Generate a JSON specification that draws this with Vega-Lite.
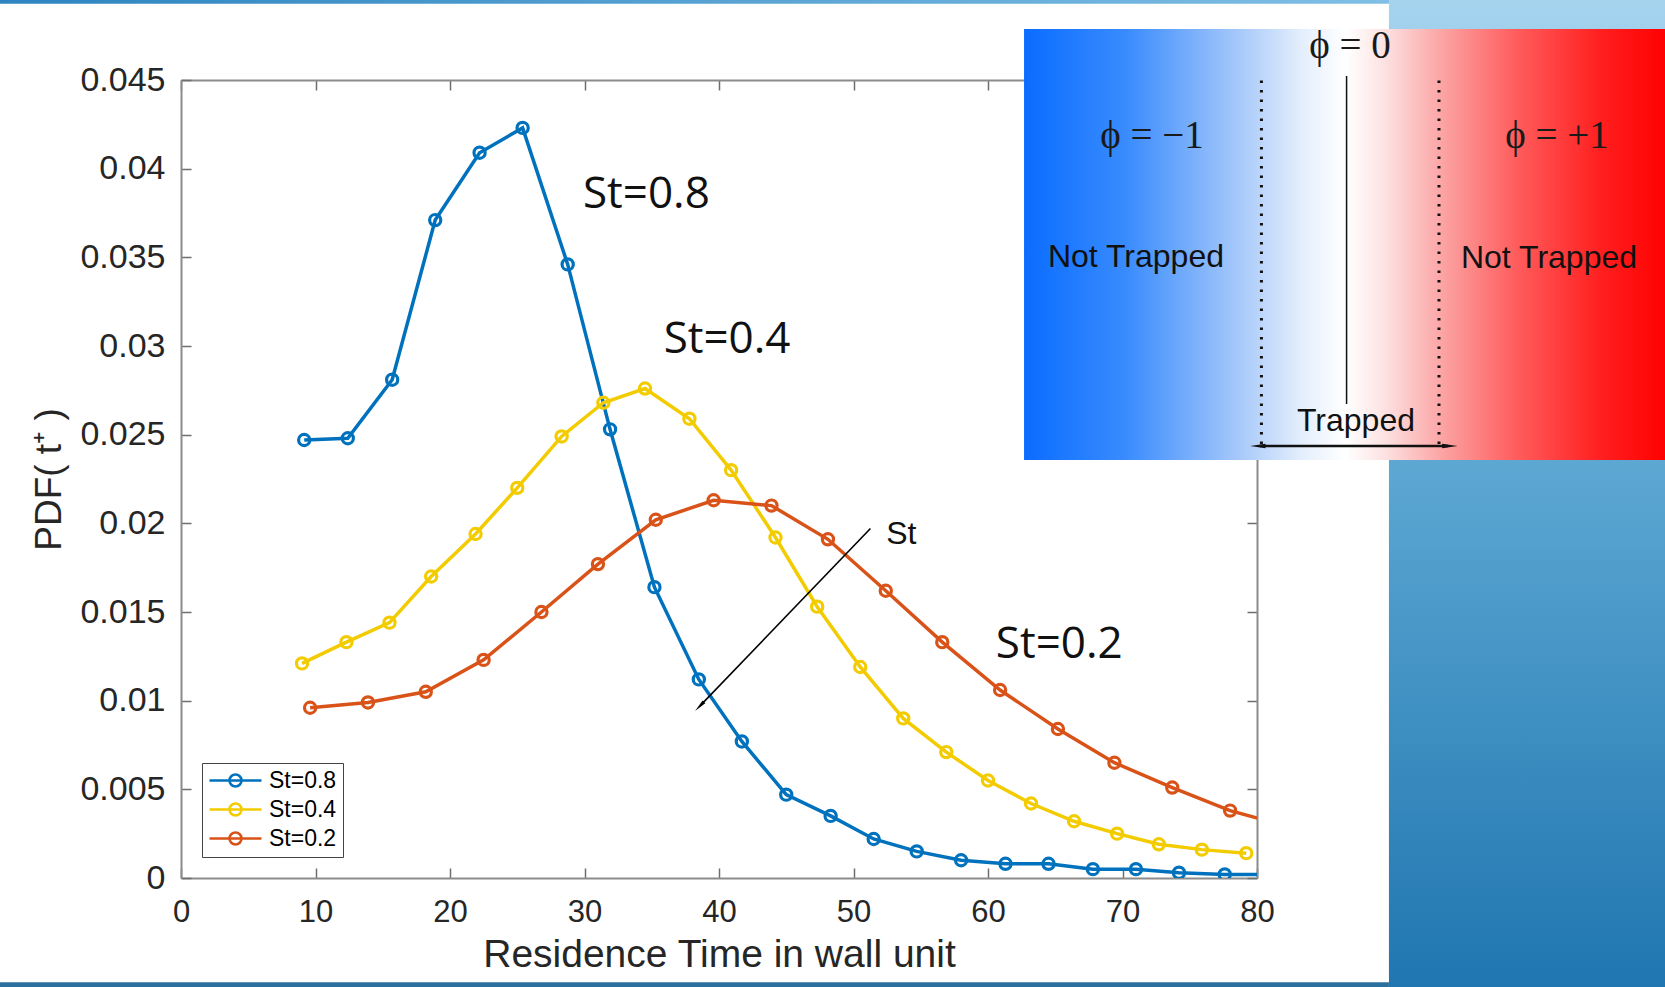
{
  "$schema": "https://vega.github.io/schema/vega-lite/v6.json",
  "width": 1076,
  "height": 798,
  "autosize": {"type": "none"},
  "padding": {"left": 181, "top": 80, "right": 408, "bottom": 109},
  "background": "white",
  "datasets": {
    "curves": [
      {"t": 9.16, "pdf": 0.0247, "St": "St=0.8"},
      {"t": 12.4, "pdf": 0.0248, "St": "St=0.8"},
      {"t": 15.7, "pdf": 0.0281, "St": "St=0.8"},
      {"t": 18.9, "pdf": 0.0371, "St": "St=0.8"},
      {"t": 22.2, "pdf": 0.0409, "St": "St=0.8"},
      {"t": 25.4, "pdf": 0.0423, "St": "St=0.8"},
      {"t": 28.75, "pdf": 0.0346, "St": "St=0.8"},
      {"t": 31.9, "pdf": 0.0253, "St": "St=0.8"},
      {"t": 35.2, "pdf": 0.0164, "St": "St=0.8"},
      {"t": 38.5, "pdf": 0.0112, "St": "St=0.8"},
      {"t": 41.7, "pdf": 0.0077, "St": "St=0.8"},
      {"t": 45.0, "pdf": 0.0047, "St": "St=0.8"},
      {"t": 48.3, "pdf": 0.0035, "St": "St=0.8"},
      {"t": 51.5, "pdf": 0.0022, "St": "St=0.8"},
      {"t": 54.7, "pdf": 0.0015, "St": "St=0.8"},
      {"t": 58.0, "pdf": 0.0010, "St": "St=0.8"},
      {"t": 61.3, "pdf": 0.0008, "St": "St=0.8"},
      {"t": 64.5, "pdf": 0.0008, "St": "St=0.8"},
      {"t": 67.8, "pdf": 0.0005, "St": "St=0.8"},
      {"t": 71.0, "pdf": 0.0005, "St": "St=0.8"},
      {"t": 74.2, "pdf": 0.0003, "St": "St=0.8"},
      {"t": 77.6, "pdf": 0.0002, "St": "St=0.8"},
      {"t": 80.9, "pdf": 0.0002, "St": "St=0.8"},
      {"t": 9.0, "pdf": 0.0121, "St": "St=0.4"},
      {"t": 12.3, "pdf": 0.0133, "St": "St=0.4"},
      {"t": 15.5, "pdf": 0.0144, "St": "St=0.4"},
      {"t": 18.6, "pdf": 0.0170, "St": "St=0.4"},
      {"t": 21.9, "pdf": 0.0194, "St": "St=0.4"},
      {"t": 25.0, "pdf": 0.0220, "St": "St=0.4"},
      {"t": 28.3, "pdf": 0.0249, "St": "St=0.4"},
      {"t": 31.4, "pdf": 0.0268, "St": "St=0.4"},
      {"t": 34.5, "pdf": 0.0276, "St": "St=0.4"},
      {"t": 37.8, "pdf": 0.0259, "St": "St=0.4"},
      {"t": 40.9, "pdf": 0.0230, "St": "St=0.4"},
      {"t": 44.2, "pdf": 0.0192, "St": "St=0.4"},
      {"t": 47.3, "pdf": 0.0153, "St": "St=0.4"},
      {"t": 50.5, "pdf": 0.0119, "St": "St=0.4"},
      {"t": 53.7, "pdf": 0.0090, "St": "St=0.4"},
      {"t": 56.9, "pdf": 0.0071, "St": "St=0.4"},
      {"t": 60.0, "pdf": 0.0055, "St": "St=0.4"},
      {"t": 63.2, "pdf": 0.0042, "St": "St=0.4"},
      {"t": 66.4, "pdf": 0.0032, "St": "St=0.4"},
      {"t": 69.6, "pdf": 0.0025, "St": "St=0.4"},
      {"t": 72.7, "pdf": 0.0019, "St": "St=0.4"},
      {"t": 75.9, "pdf": 0.0016, "St": "St=0.4"},
      {"t": 79.2, "pdf": 0.0014, "St": "St=0.4"},
      {"t": 9.6, "pdf": 0.0096, "St": "St=0.2"},
      {"t": 13.9, "pdf": 0.0099, "St": "St=0.2"},
      {"t": 18.2, "pdf": 0.0105, "St": "St=0.2"},
      {"t": 22.5, "pdf": 0.0123, "St": "St=0.2"},
      {"t": 26.8, "pdf": 0.0150, "St": "St=0.2"},
      {"t": 31.0, "pdf": 0.0177, "St": "St=0.2"},
      {"t": 35.3, "pdf": 0.0202, "St": "St=0.2"},
      {"t": 39.6, "pdf": 0.0213, "St": "St=0.2"},
      {"t": 43.9, "pdf": 0.0210, "St": "St=0.2"},
      {"t": 48.1, "pdf": 0.0191, "St": "St=0.2"},
      {"t": 52.4, "pdf": 0.0162, "St": "St=0.2"},
      {"t": 56.6, "pdf": 0.0133, "St": "St=0.2"},
      {"t": 60.9, "pdf": 0.0106, "St": "St=0.2"},
      {"t": 65.2, "pdf": 0.0084, "St": "St=0.2"},
      {"t": 69.4, "pdf": 0.0065, "St": "St=0.2"},
      {"t": 73.7, "pdf": 0.0051, "St": "St=0.2"},
      {"t": 78.0, "pdf": 0.0038, "St": "St=0.2"},
      {"t": 82.3, "pdf": 0.0029, "St": "St=0.2"}
    ],
    "stLabels": [
      {"x": 34.6, "y": 0.03853, "label": "St=0.8"},
      {"x": 40.6, "y": 0.03032, "label": "St=0.4"},
      {"x": 65.3, "y": 0.01312, "label": "St=0.2"}
    ],
    "insetText": [
      {"x": 71.0, "y": 0.03502, "label": "Not Trapped"},
      {"x": 101.71, "y": 0.03496, "label": "Not Trapped"},
      {"x": 87.36, "y": 0.02577, "label": "Trapped"}
    ],
    "insetPhi": [
      {"x": 86.91, "y": 0.04692, "label": "ϕ = 0"},
      {"x": 72.19, "y": 0.04184, "label": "ϕ = −1"},
      {"x": 102.3, "y": 0.04184, "label": "ϕ = +1"}
    ],
    "insetDotted": [
      {"x": 80.33, "y": 0.024474, "y2": 0.045226},
      {"x": 93.53, "y": 0.024474, "y2": 0.045226}
    ]
  },
  "layer": [
    {
      "layer": [
        {
          "data": {"values": [{"x": 89.81, "x2": 125, "y": -0.0063, "y2": 0.0498}]},
          "mark": {"type": "rect", "color": {"gradient": "linear", "x1": 0, "y1": 0, "x2": 0, "y2": 1, "stops": [{"offset": 0, "color": "#a6d4ef"}, {"offset": 0.45, "color": "#5fa9d4"}, {"offset": 1, "color": "#1f76b0"}]}},
          "encoding": {"x": {"field": "x", "type": "quantitative"}, "x2": {"field": "x2"}, "y": {"field": "y", "type": "quantitative"}, "y2": {"field": "y2"}}
        },
        {
          "data": {"values": [{"x": -14, "x2": 89.81, "y": 0.04930, "y2": 0.0498}]},
          "mark": {"type": "rect", "color": {"gradient": "linear", "x1": 0, "y1": 0, "x2": 1, "y2": 0, "stops": [{"offset": 0, "color": "#2d84c0"}, {"offset": 1, "color": "#7fbfe6"}]}},
          "encoding": {"x": {"field": "x", "type": "quantitative"}, "x2": {"field": "x2"}, "y": {"field": "y", "type": "quantitative"}, "y2": {"field": "y2"}}
        },
        {
          "data": {"values": [{"x": -14, "x2": 89.81, "y": -0.0063, "y2": -0.00588}]},
          "mark": {"type": "rect", "color": "#2b6f9e"},
          "encoding": {"x": {"field": "x", "type": "quantitative"}, "x2": {"field": "x2"}, "y": {"field": "y", "type": "quantitative"}, "y2": {"field": "y2"}}
        },
        {
          "data": {"name": "curves"},
          "mark": {"type": "line", "strokeWidth": 3.5, "clip": true},
          "encoding": {
            "x": {"field": "t", "type": "quantitative", "scale": {"domain": [0, 80], "nice": false, "zero": false},
              "axis": {"orient": "bottom", "values": [0, 10, 20, 30, 40, 50, 60, 70, 80], "title": "Residence Time in wall unit", "titleFontSize": 39, "labelPadding": 29, "titlePadding": 8, "labelFlush": false}},
            "y": {"field": "pdf", "type": "quantitative", "scale": {"domain": [0, 0.045], "nice": false, "zero": false},
              "axis": {"orient": "left", "values": [0, 0.005, 0.01, 0.015, 0.02, 0.025, 0.03, 0.035, 0.04, 0.045], "format": "~g", "title": "PDF( t⁺ )", "titleFontSize": 37, "labelFontSize": 34, "labelPadding": 26, "titlePadding": 11, "labelFlush": false}},
            "color": {"field": "St", "type": "nominal", "scale": {"domain": ["St=0.8", "St=0.4", "St=0.2"], "range": ["#0072bd", "#f2cc00", "#d95319"]}}
          }
        },
        {
          "data": {"name": "curves"},
          "mark": {"type": "point", "filled": false, "size": 125, "strokeWidth": 3.2, "opacity": 1, "clip": true},
          "encoding": {
            "x": {"field": "t", "type": "quantitative"},
            "y": {"field": "pdf", "type": "quantitative"},
            "color": {"field": "St", "type": "nominal"}
          }
        },
        {
          "data": {"name": "stLabels"},
          "mark": {"type": "text", "font": "Open Sans", "fontSize": 44, "color": "#111111", "align": "center", "baseline": "middle"},
          "encoding": {"x": {"field": "x", "type": "quantitative"}, "y": {"field": "y", "type": "quantitative"}, "text": {"field": "label"}}
        },
        {
          "data": {"values": [{"x": 53.55, "y": 0.01941, "label": "St"}]},
          "mark": {"type": "text", "font": "Liberation Sans", "fontSize": 32, "color": "#111111", "align": "center", "baseline": "middle"},
          "encoding": {"x": {"field": "x", "type": "quantitative"}, "y": {"field": "y", "type": "quantitative"}, "text": {"field": "label"}}
        },
        {
          "data": {"values": [{"x": 51.26, "y": 0.01971, "x2": 38.66, "y2": 0.00976}]},
          "mark": {"type": "rule", "color": "black", "strokeWidth": 1.6},
          "encoding": {"x": {"field": "x", "type": "quantitative"}, "y": {"field": "y", "type": "quantitative"}, "x2": {"field": "x2"}, "y2": {"field": "y2"}}
        },
        {
          "data": {"values": [{"x": 38.66, "y": 0.00976}]},
          "mark": {"type": "point", "shape": "wedge", "filled": true, "color": "black", "size": 220, "angle": 224, "opacity": 1},
          "encoding": {"x": {"field": "x", "type": "quantitative"}, "y": {"field": "y", "type": "quantitative"}}
        },
        {
          "data": {"values": [{"x": 62.68, "x2": 110.5, "y": 0.023571, "y2": 0.047876}]},
          "mark": {"type": "rect", "color": {"gradient": "linear", "x1": 0, "y1": 0, "x2": 1, "y2": 0, "stops": [
            {"offset": 0, "color": "#0a6cff"}, {"offset": 0.16, "color": "#3a8cfd"}, {"offset": 0.33, "color": "#a4c7fa"}, {"offset": 0.43, "color": "#e3eefc"}, {"offset": 0.5, "color": "#ffffff"}, {"offset": 0.56, "color": "#fde2e2"}, {"offset": 0.66, "color": "#fc9d9d"}, {"offset": 0.77, "color": "#ff5a5a"}, {"offset": 0.9, "color": "#ff1e1e"}, {"offset": 1, "color": "#ff0000"}]}},
          "encoding": {"x": {"field": "x", "type": "quantitative"}, "x2": {"field": "x2"}, "y": {"field": "y", "type": "quantitative"}, "y2": {"field": "y2"}}
        },
        {
          "data": {"name": "insetDotted"},
          "mark": {"type": "rule", "color": "#111111", "strokeWidth": 3, "strokeDash": [2.5, 7]},
          "encoding": {"x": {"field": "x", "type": "quantitative"}, "y": {"field": "y", "type": "quantitative"}, "y2": {"field": "y2"}}
        },
        {
          "data": {"values": [{"x": 86.66, "y": 0.026729, "y2": 0.045226}]},
          "mark": {"type": "rule", "color": "#111111", "strokeWidth": 1.5},
          "encoding": {"x": {"field": "x", "type": "quantitative"}, "y": {"field": "y", "type": "quantitative"}, "y2": {"field": "y2"}}
        },
        {
          "data": {"values": [{"x": 80.2, "x2": 94.2, "y": 0.024361}]},
          "mark": {"type": "rule", "color": "#111111", "strokeWidth": 2.5},
          "encoding": {"x": {"field": "x", "type": "quantitative"}, "x2": {"field": "x2"}, "y": {"field": "y", "type": "quantitative"}}
        },
        {
          "data": {"values": [{"x": 80.25, "y": 0.024361, "dir": 270}, {"x": 94.15, "y": 0.024361, "dir": 90}]},
          "mark": {"type": "point", "shape": "wedge", "filled": true, "color": "#111111", "size": 320, "opacity": 1},
          "encoding": {"x": {"field": "x", "type": "quantitative"}, "y": {"field": "y", "type": "quantitative"}, "angle": {"field": "dir", "type": "quantitative", "scale": null}}
        },
        {
          "data": {"name": "insetText"},
          "mark": {"type": "text", "font": "Liberation Sans", "fontSize": 32, "color": "#111111", "align": "center", "baseline": "middle"},
          "encoding": {"x": {"field": "x", "type": "quantitative"}, "y": {"field": "y", "type": "quantitative"}, "text": {"field": "label"}}
        },
        {
          "data": {"name": "insetPhi"},
          "mark": {"type": "text", "font": "Liberation Serif, DejaVu Serif", "fontSize": 39, "color": "#1a1a1a", "align": "center", "baseline": "middle"},
          "encoding": {"x": {"field": "x", "type": "quantitative"}, "y": {"field": "y", "type": "quantitative"}, "text": {"field": "label"}}
        }
      ]
    },
    {
      "data": {"values": [{"t": 0, "pdf": 0}]},
      "mark": {"type": "point", "opacity": 0},
      "encoding": {
        "x": {"field": "t", "type": "quantitative", "scale": {"domain": [0, 80], "nice": false, "zero": false},
          "axis": {"orient": "top", "labels": false, "title": null, "values": [0, 10, 20, 30, 40, 50, 60, 70, 80]}},
        "y": {"field": "pdf", "type": "quantitative", "scale": {"domain": [0, 0.045], "nice": false, "zero": false},
          "axis": {"orient": "right", "labels": false, "title": null, "values": [0, 0.005, 0.01, 0.015, 0.02, 0.025, 0.03, 0.035, 0.04, 0.045]}}
      }
    }
  ],
  "resolve": {"axis": {"x": "independent", "y": "independent"}},
  "config": {
    "view": {"stroke": null},
    "font": "Liberation Sans",
    "axis": {"grid": false, "domainColor": "#8c8c8c", "domainWidth": 2, "tickColor": "#6e6e6e", "tickWidth": 1.5, "tickSize": -10,
      "labelFont": "Liberation Sans", "labelFontSize": 31, "labelColor": "#262626",
      "titleFont": "Liberation Sans", "titleFontSize": 37, "titleFontWeight": "normal", "titleColor": "#262626"},
    "legend": {"orient": "bottom-left", "offset": 21, "title": null, "padding": 6, "strokeColor": "#444444", "fillColor": "white",
      "symbolType": "M-2.6,0H2.6M0.6,0A0.6,0.6,0,1,1,-0.6,0A0.6,0.6,0,1,1,0.6,0", "symbolSize": 400, "symbolStrokeWidth": 2.5, "symbolOffset": 16,
      "labelFont": "Liberation Sans", "labelFontSize": 23, "labelColor": "black", "labelOffset": 22, "rowPadding": 5}
  }
}
